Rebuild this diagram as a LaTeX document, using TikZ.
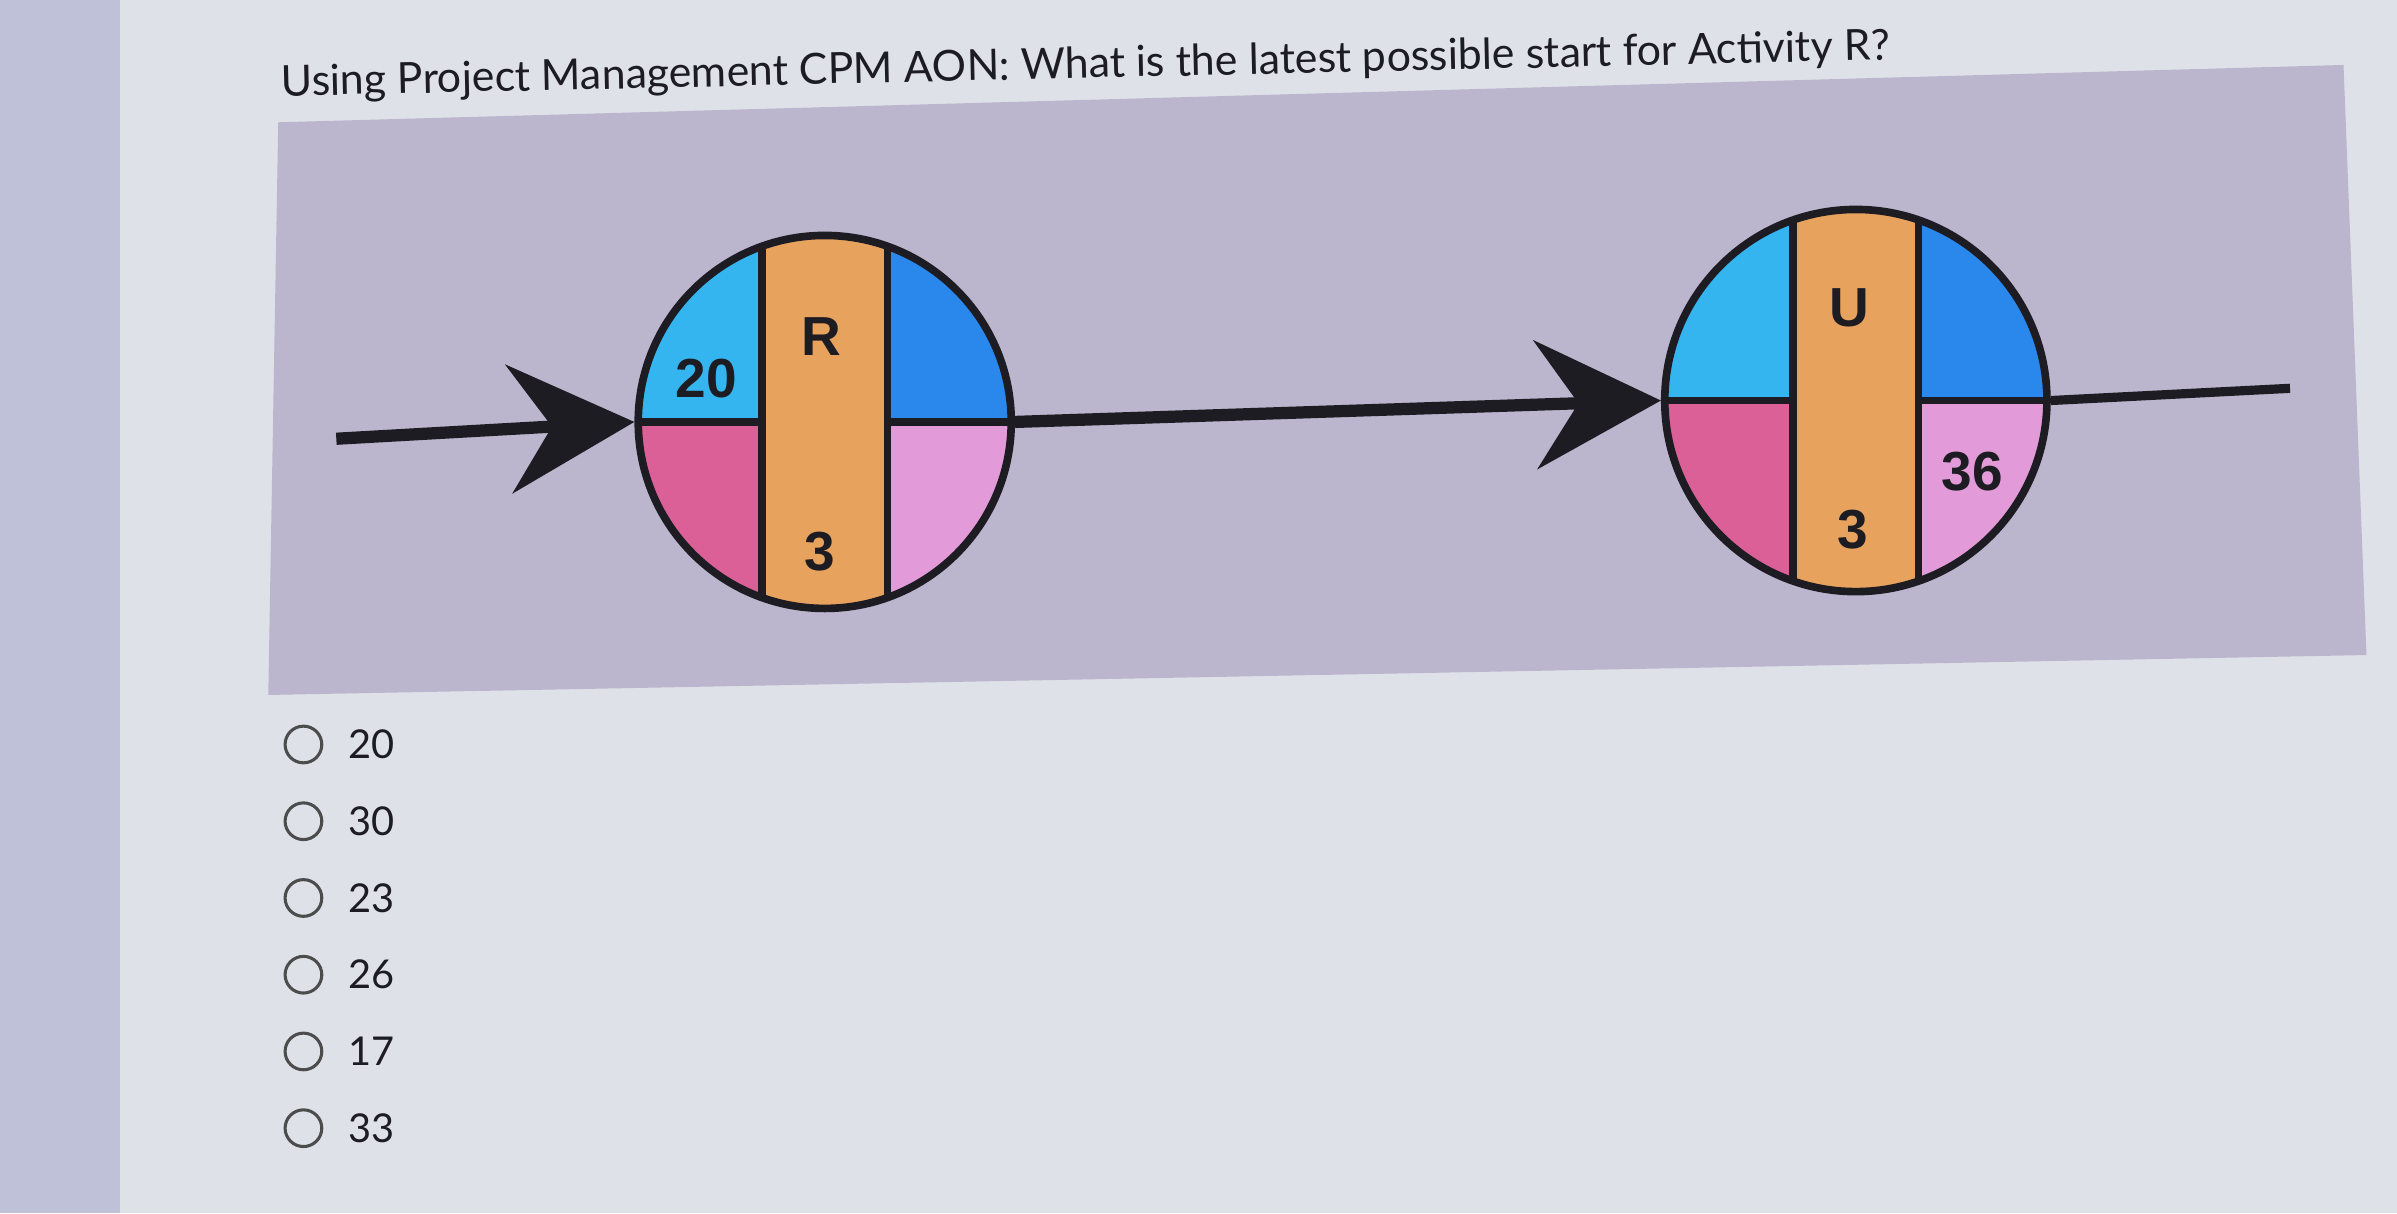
\documentclass[tikz,border=0pt]{standalone}
\usepackage{fontspec}
\setmainfont{Lato}
\newfontfamily\labelfont{Liberation Sans}
\usetikzlibrary{positioning}
\usetikzlibrary{calc}
\usetikzlibrary{arrows.meta}

\definecolor{page}{HTML}{DFE1E8}
\definecolor{sidebar}{HTML}{BEC1D8}
\definecolor{panel}{HTML}{BBB5CE}
\definecolor{esblue}{HTML}{35B5F0}
\definecolor{efblue}{HTML}{2A88EC}
\definecolor{lspink}{HTML}{DA6097}
\definecolor{lfpink}{HTML}{E29AD8}
\definecolor{strip}{HTML}{E7A25E}
\definecolor{ink}{HTML}{1C1C22}

\begin{document}
\begin{tikzpicture}[x=1pt, y=-1pt,
    act/.style={circle, draw=ink, line width=5pt, inner sep=0pt, minimum size=#1,
      path picture={
        \fill[esblue] (path picture bounding box.north west) rectangle (path picture bounding box.center);
        \fill[efblue] (path picture bounding box.north east) rectangle (path picture bounding box.center);
        \fill[lspink] (path picture bounding box.south west) rectangle (path picture bounding box.center);
        \fill[lfpink] (path picture bounding box.south east) rectangle (path picture bounding box.center);
        \draw[ink, line width=5pt] (path picture bounding box.west) -- (path picture bounding box.east);
        \draw[ink, line width=5pt, fill=strip] ($(path picture bounding box.north)+(-41,-6)$)
          rectangle ($(path picture bounding box.south)+(41,6)$);
      }},
    val/.style={font=\labelfont\bfseries\fontsize{36}{36}\selectfont, text=ink, inner sep=0pt},
    flow/.style={draw=ink, line width=8pt, -{Stealth[length=82pt, width=84pt, inset=28pt]}},
    radio/.style={circle, draw=black!70, line width=2pt, minimum size=24pt, inner sep=0pt},
    choice/.style={font=\fontsize{26}{26}\selectfont, text=ink, inner sep=0pt}]

  % page, sidebar and the grey panel behind the network
  \useasboundingbox (0,0) rectangle (1568,793.5);
  \fill[page] (0,0) rectangle (1568,793.5);
  \fill[sidebar] (0,0) rectangle (78.5,793.5);
  \fill[panel] (182,80) -- (1533,42.5) -- (1548,428.5) -- (175.5,454.6) -- cycle;

  \node[anchor=base west, rotate=1.3, font=\fontsize{28}{28}\selectfont, text=ink, inner sep=0pt] (title)
    at (184,63) {Using Project Management CPM AON: What is the latest possible start for Activity R?};

  % activities
  \node[act=244pt] (R) at (539.5,276) {};
  \node[act=250pt] (U) at (1214,262) {};

  \node[val] (Rname) at ($(R)+(-2,-56)$) {R};
  \node[val] (Res) at ($(R)+(-77.5,-28.5)$) {20};
  \node[val] (Rdur) at ($(R)+(-3.5,85)$) {3};
  \node[val] (Uname) at ($(U)+(-4,-60.5)$) {U};
  \node[val] (Udur) at ($(U)+(-2,84.7)$) {3};
  \node[val] (Ulf) at ($(U)+(76,46.5)$) {36};

  % links
  \coordinate (start) at (220,287);
  \coordinate (exit) at (1498,254);
  \draw[flow] (start) -- (R.west);
  \draw[flow] (R.east) -- (U.west);
  \draw[ink, line width=6pt] (U.east) -- (exit);

  % answer choices
  \foreach \v [count=\i] in {20,30,23,26,17,33} {
    \node[radio] (opt\i) at (198.5,{487+50.2*(\i-1)}) {};
    \node[choice, right=16pt of opt\i] (lab\i) {\v};
  }
\end{tikzpicture}
\end{document}
